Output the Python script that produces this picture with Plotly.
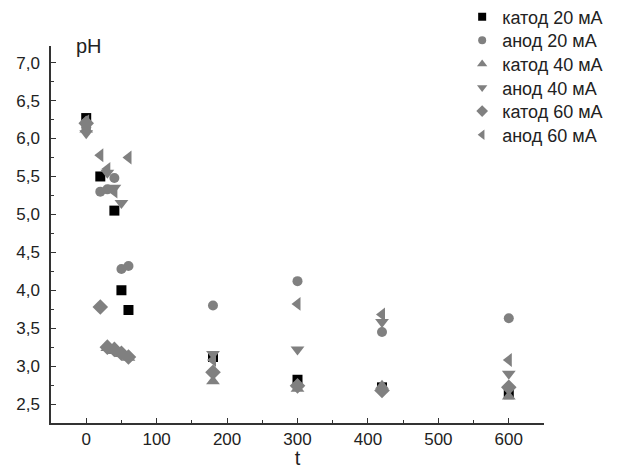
import plotly.graph_objects as go

# data
names = ["катод 20 мА", "анод 20 мА", "катод 40 мА", "анод 40 мА", "катод 60 мА", "анод 60 мА"]

t_k20 = [0, 20, 40, 50, 60, 180, 300, 420, 600]
ph_k20 = [6.27, 5.5, 5.05, 4.0, 3.74, 3.12, 2.82, 2.72, 2.63]

t_a20 = [0, 20, 30, 40, 50, 60, 180, 300, 420, 600]
ph_a20 = [6.15, 5.3, 5.33, 5.48, 4.28, 4.32, 3.8, 4.12, 3.45, 3.63]

t_k40 = [0, 30, 40, 50, 60, 180, 300, 420, 600]
ph_k40 = [6.12, 3.24, 3.2, 3.16, 3.11, 2.8, 2.7, 2.74, 2.6]

t_a40 = [0, 30, 40, 50, 180, 300, 420, 600]
ph_a40 = [6.07, 5.55, 5.35, 5.15, 3.16, 3.22, 3.58, 2.9]

t_k60 = [0, 20, 30, 40, 50, 60, 180, 300, 420, 600]
ph_k60 = [6.2, 3.78, 3.25, 3.22, 3.17, 3.12, 2.92, 2.74, 2.68, 2.72]

t_a60 = [0, 20, 30, 40, 60, 180, 300, 420, 600]
ph_a60 = [6.23, 5.78, 5.6, 5.3, 5.75, 3.08, 3.82, 3.68, 3.08]

series = [
    (t_k20, ph_k20, "square", "#000000", 10),
    (t_a20, ph_a20, "circle", "#808080", 10),
    (t_k40, ph_k40, "triangle-up", "#808080", 12),
    (t_a40, ph_a40, "triangle-down", "#808080", 12),
    (t_k60, ph_k60, "diamond", "#808080", 12),
    (t_a60, ph_a60, "triangle-left", "#808080", 12),
]

font = "Liberation Sans, Arial, sans-serif"
fig = go.Figure()
# black squares first so that grey marks sit on top, as in the reference
for i, ((t, ph, sym, col, sz), nm) in enumerate(zip(series, names)):
    lg = "legend" if i == 0 else f"legend{i+1}"
    fig.add_trace(go.Scatter(x=t, y=ph, mode="markers", name=nm, showlegend=False,
                             marker=dict(symbol=sym, color=col, size=sz, line=dict(width=0))))
    # legend entry with a smaller symbol, one legend per row for exact spacing
    fig.add_trace(go.Scatter(x=[None], y=[None], mode="markers", name=nm, showlegend=True, legend=lg,
                             marker=dict(symbol=sym, color=col, size=8 if sym in ("square", "circle") else 9,
                                         line=dict(width=0))))

# plot area spans page y 46..423 (height 377)
legend_layout = {}
for i in range(len(names)):
    yc = 17 + i * 23.6
    key = "legend" if i == 0 else f"legend{i+1}"
    legend_layout[key] = dict(x=0.834, y=(423 - yc) / 377, xanchor="left", yanchor="middle",
                              font=dict(family=font, size=18, color="#222"),
                              bgcolor="rgba(0,0,0,0)", itemwidth=30)

# the page body has an 8px margin, so the figure is 8px smaller than the window
fig.update_layout(
    width=613, height=461,
    margin=dict(l=43, r=77, t=38, b=46, autoexpand=False),
    plot_bgcolor="white", paper_bgcolor="white",
    separators=", ",
    font=dict(family=font, size=17, color="#222"),
    xaxis=dict(range=[-50, 650], dtick=100, tick0=0, ticks="inside", ticklen=5, tickwidth=1.2,
               tickcolor="#333", showline=True, linecolor="#333", linewidth=1.5, mirror=False,
               showgrid=False, zeroline=False, automargin=False,
               minor=dict(dtick=50, tick0=0, ticks="inside", ticklen=3, tickcolor="#333", showgrid=False),
               title=dict(text="t", font=dict(size=20), standoff=5),
               tickfont=dict(size=17)),
    yaxis=dict(range=[2.25, 7.22], dtick=0.5, tick0=2.5, tickformat=".1f", ticks="inside", ticklen=5,
               tickwidth=1.2, tickcolor="#333", showline=True, linecolor="#333", linewidth=1.5,
               mirror=False, showgrid=False, zeroline=False, automargin=False,
               ticklabelstandoff=6,
               minor=dict(dtick=0.25, tick0=2.25, ticks="inside", ticklen=3, tickcolor="#333", showgrid=False),
               tickfont=dict(size=17)),
    annotations=[dict(text="pH", xref="paper", yref="paper", x=0.078, y=1.0, xanchor="center",
                      yanchor="middle", showarrow=False, font=dict(size=20, color="#222"))],
    **legend_layout,
)

fig.write_html("out.html")
